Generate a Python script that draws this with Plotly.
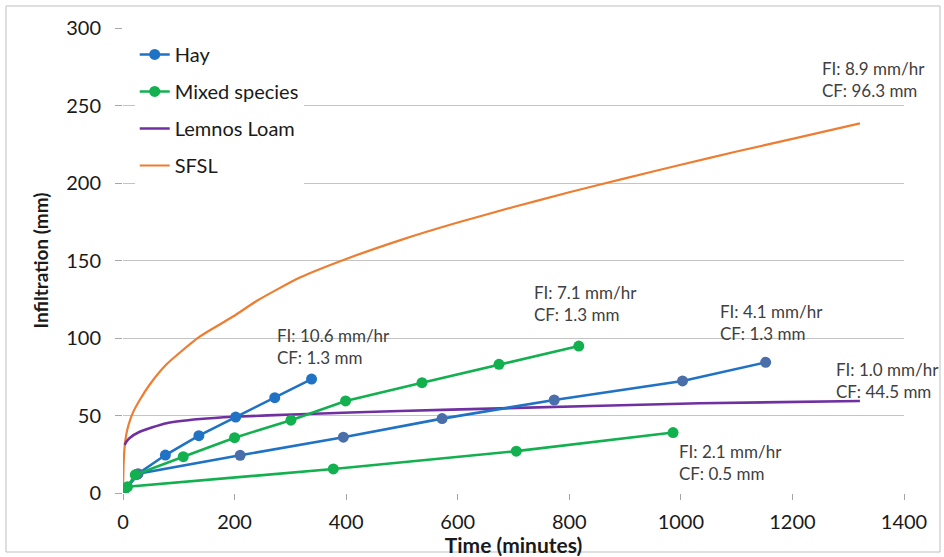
import plotly.graph_objects as go

# ---- data ----
hay1_t = [0, 25, 76, 136, 202, 272, 338]
hay1_v = [0, 12, 24.5, 37, 49, 61.5, 73.5]

hay2_t = [0, 27, 210, 395, 572, 773, 1003, 1152]
hay2_v = [0, 12.5, 24.3, 36, 48, 60, 72.3, 84.3]

mix1_t = [0, 22, 108, 200, 301, 399, 536, 674, 817]
mix1_v = [0, 11.7, 23.4, 35.7, 47, 59.4, 71.2, 83, 94.8]

mix2_t = [0, 8, 377, 705, 986]
mix2_v = [0, 4, 15.5, 27, 39]

lemnos_t = [3, 6, 12, 30, 78, 138, 198, 317, 496, 676, 1034, 1321]
lemnos_v = [31, 33, 35.5, 39.5, 45, 47.7, 49.2, 50.8, 52.9, 54.6, 57.9, 59.4]

sfsl_t = [0, 1, 3, 6, 10, 18, 30, 48, 78, 100, 138, 198, 240, 317, 400, 500,
          600, 700, 800, 900, 1000, 1100, 1200, 1321]
sfsl_v = [0, 18, 30, 38, 44, 52, 60, 70, 83, 90, 101, 114, 124, 139, 151, 163.5,
          174.5, 184.5, 194, 203, 211.8, 220.3, 228.5, 238.5]

labels = [
    (272, 94.8, "FI: 10.6 mm/hr<br>CF: 1.3 mm"),
    (733, 122.0, "FI: 7.1 mm/hr<br>CF: 1.3 mm"),
    (1066, 109.9, "FI: 4.1 mm/hr<br>CF: 1.3 mm"),
    (1274, 72.6, "FI: 1.0 mm/hr<br>CF: 44.5 mm"),
    (993, 19.4, "FI: 2.1 mm/hr<br>CF: 0.5 mm"),
    (1249, 267.0, "FI: 8.9 mm/hr<br>CF: 96.3 mm"),
]

x_ticks = [0, 200, 400, 600, 800, 1000, 1200, 1400]
y_ticks = [0, 50, 100, 150, 200, 250, 300]

BLUE = "#1f72c4"
BLUE2 = "#4a6ea9"
GREEN = "#12b04f"
PURPLE = "#7030a0"
ORANGE = "#ed7d31"
FONT = "Lato"

fig = go.Figure()

# added in legend order; zorder controls drawing order
fig.add_trace(go.Scatter(x=hay1_t, y=hay1_v, mode="lines+markers", name="Hay",
                         line=dict(color=BLUE, width=2.6),
                         marker=dict(color=BLUE, size=11), cliponaxis=False,
                         legendgroup="a", zorder=2))
fig.add_trace(go.Scatter(x=hay2_t, y=hay2_v, mode="lines+markers", name="Hay",
                         line=dict(color=BLUE, width=2.6),
                         marker=dict(color=BLUE2, size=11), cliponaxis=False,
                         showlegend=False, legendgroup="a", zorder=2))
fig.add_trace(go.Scatter(x=mix1_t, y=mix1_v, mode="lines+markers", name="Mixed species",
                         line=dict(color=GREEN, width=2.6),
                         marker=dict(color=GREEN, size=11), cliponaxis=False,
                         legendgroup="b", zorder=3))
fig.add_trace(go.Scatter(x=mix2_t, y=mix2_v, mode="lines+markers", name="Mixed species",
                         line=dict(color=GREEN, width=2.6),
                         marker=dict(color=GREEN, size=11), cliponaxis=False,
                         showlegend=False, legendgroup="b", zorder=3))
fig.add_trace(go.Scatter(x=lemnos_t, y=lemnos_v, mode="lines", name="Lemnos Loam",
                         line=dict(color=PURPLE, width=2.6, shape="spline", smoothing=0.6),
                         legendgroup="c", zorder=1))
fig.add_trace(go.Scatter(x=sfsl_t, y=sfsl_v, mode="lines", name="SFSL",
                         line=dict(color=ORANGE, width=2.2, shape="spline", smoothing=0.6),
                         legendgroup="d", zorder=0))

for tx, ty, txt in labels:
    fig.add_annotation(x=tx, y=ty, text=txt, showarrow=False, xanchor="left",
                       yanchor="middle", align="left",
                       font=dict(family=FONT, size=17, color="#404040"))

L, R, T, B = 123, 40, 28, 64
W, H = 944, 557
pw, ph = W - L - R, H - T - B
# outer frame around the chart
fig.add_shape(type="rect", xref="paper", yref="paper",
              x0=(6 - L) / pw, x1=(940 - L) / pw,
              y0=(H - 552 - B) / ph, y1=(H - 6 - B) / ph,
              line=dict(color="#bfbfbf", width=1), layer="below")

fig.update_layout(
    width=W, height=H,
    margin=dict(l=L, r=R, t=T, b=B, autoexpand=False),
    paper_bgcolor="white", plot_bgcolor="white",
    font=dict(family=FONT, color="#262626"),
    showlegend=True,
    legend=dict(x=0.015, y=0.985, xanchor="left", yanchor="top",
                bgcolor="white", font=dict(family=FONT, size=20, color="#1a1a1a"),
                itemwidth=30, tracegroupgap=8, traceorder="grouped"),
)
fig.update_xaxes(range=[0, 1400], tickvals=x_ticks, ticktext=[str(v) for v in x_ticks],
                 showgrid=False, zeroline=False, showline=True, linecolor="#a6a6a6",
                 linewidth=1, ticks="outside", ticklen=6, tickcolor="#a6a6a6",
                 ticklabelstandoff=5,
                 tickfont=dict(family=FONT, size=20, color="#1a1a1a"),
                 title=dict(text="<b>Time (minutes)</b>", standoff=2,
                            font=dict(family=FONT, size=21, color="#1a1a1a")),
                 automargin=False)
fig.update_yaxes(range=[0, 300], tickvals=y_ticks, ticktext=[str(v) for v in y_ticks],
                 showgrid=True, gridcolor="#c4c4c4", gridwidth=1, zeroline=False,
                 showline=True, linecolor="#a6a6a6", linewidth=1,
                 ticks="outside", ticklen=7, tickcolor="#a6a6a6",
                 ticklabelstandoff=10,
                 tickfont=dict(family=FONT, size=20, color="#1a1a1a"),
                 title=dict(text="<b>Infiltration (mm)</b>", standoff=12,
                            font=dict(family=FONT, size=19, color="#1a1a1a")),
                 automargin=False)

fig.write_html("out.html")
